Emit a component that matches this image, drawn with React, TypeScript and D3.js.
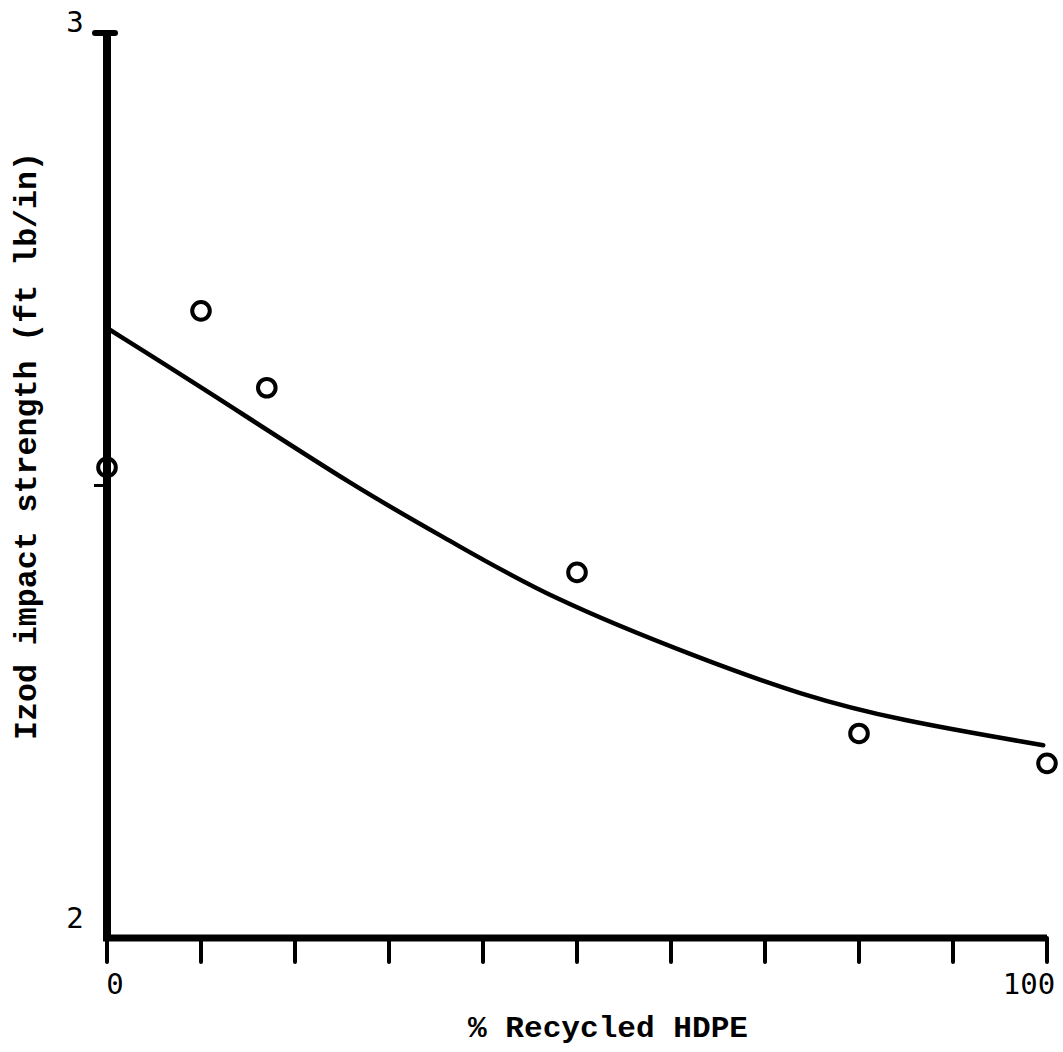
import React from "react";
import * as d3 from "d3";

// measured points (% recycled HDPE vs Izod impact strength)
const pointX = [0, 10, 17, 50, 80, 100];
const pointY = [2.52, 2.693, 2.608, 2.404, 2.226, 2.193];

// fitted curve
const curveX = [0, 10, 27, 36.5, 47, 63, 74, 84, 99.6];
const curveY = [2.674, 2.609, 2.494, 2.439, 2.376, 2.309, 2.268, 2.241, 2.213];

const xTickValues = [0, 10, 20, 30, 40, 50, 60, 70, 80, 90, 100];
const xTickLabels = ["0", "100"];
const yTickLabels = ["2", "3"];

const W = 1063;
const H = 1052;
const mono = "'Courier New', Courier, 'Nimbus Mono PS', FreeMono, 'Liberation Mono', monospace";
const sans = "'DejaVu Sans Mono', 'Liberation Mono', monospace";

export default function App() {
  const x = d3.scaleLinear().domain([0, 100]).range([107, 1047]);
  const y = d3.scaleLinear().domain([2, 3]).range([938, 33]);

  const curve = curveX.map((d, i) => [d, curveY[i]] as [number, number]);
  const line = d3
    .line<[number, number]>()
    .x((d) => x(d[0]))
    .y((d) => y(d[1]))
    .curve(d3.curveBasis);

  return (
    <svg
      width={W}
      height={H}
      style={{ position: "absolute", left: 0, top: 0, background: "#fff" }}
    >
      {/* y axis */}
      <line x1={x(0)} x2={x(0)} y1={y(3)} y2={y(2) + 3} stroke="#000" strokeWidth={8} />
      <line x1={x(0) - 12} x2={x(0) + 8} y1={y(3)} y2={y(3)} stroke="#000" strokeWidth={6} strokeLinecap="round" />
      <line x1={x(0) - 13} x2={x(0)} y1={y(2.5)} y2={y(2.5)} stroke="#000" strokeWidth={3} />
      {/* x axis */}
      <line x1={x(0) - 4} x2={x(100)} y1={y(2)} y2={y(2)} stroke="#000" strokeWidth={7} />
      {xTickValues.map((t) => (
        <line
          key={t}
          x1={x(t)}
          x2={x(t)}
          y1={y(2)}
          y2={y(2) + 24}
          stroke="#000"
          strokeWidth={4}
          strokeLinecap="round"
        />
      ))}

      {/* tick labels */}
      <text x={x(0) - 32} y={y(3) - 1} fontFamily={sans} fontSize={29} textAnchor="middle">
        {yTickLabels[1]}
      </text>
      <text x={x(0) - 32} y={y(2) - 10} fontFamily={sans} fontSize={29} textAnchor="middle">
        {yTickLabels[0]}
      </text>
      <text x={x(0) + 8} y={y(2) + 56} fontFamily={sans} fontSize={29} textAnchor="middle">
        {xTickLabels[0]}
      </text>
      <text x={x(100) - 18} y={y(2) + 56} fontFamily={sans} fontSize={29} textAnchor="middle">
        {xTickLabels[1]}
      </text>

      {/* axis titles */}
      <text
        x={468}
        y={1037}
        fontFamily={mono}
        fontSize={30}
        fontWeight="bold"
        textLength={280}
        lengthAdjust="spacingAndGlyphs"
      >
        % Recycled HDPE
      </text>
      <text
        transform="translate(36,740) rotate(-90)"
        fontFamily={mono}
        fontSize={31}
        fontWeight="bold"
        textLength={588}
        lengthAdjust="spacingAndGlyphs"
      >
        Izod impact strength (ft lb/in)
      </text>

      {/* fitted curve */}
      <path d={line(curve) || ""} fill="none" stroke="#000" strokeWidth={4.5} strokeLinecap="round" />

      {/* data points */}
      {pointX.map((d, i) => (
        <circle
          key={i}
          cx={x(d)}
          cy={y(pointY[i])}
          r={8.8}
          fill="none"
          stroke="#000"
          strokeWidth={4}
        />
      ))}
    </svg>
  );
}
